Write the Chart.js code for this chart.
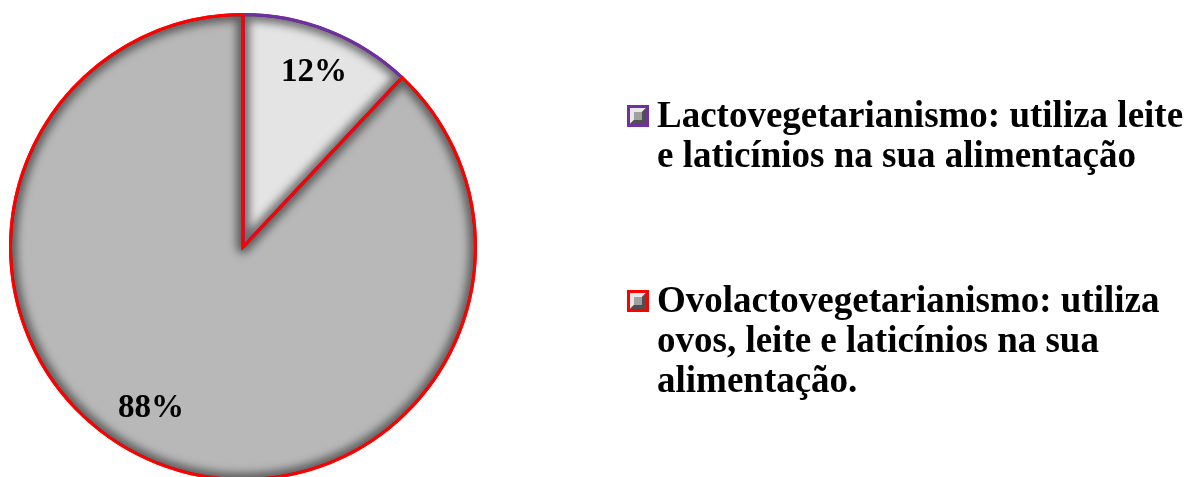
<!DOCTYPE html>
<html>
<head>
<meta charset="utf-8">
<script src="https://cdn.jsdelivr.net/npm/chart.js@4"></script>
<style>
  html, body { margin: 0; padding: 0; background: #fff; overflow: hidden; }
  #wrap { width: 1190px; height: 490px; position: relative; }
</style>
</head>
<body>
<div id="wrap"><canvas id="dietPie"></canvas></div>
<script>
// Chart data
const labels = [
  ['Lactovegetarianismo: utiliza leite', 'e laticínios na sua alimentação'],
  ['Ovolactovegetarianismo: utiliza', 'ovos, leite e laticínios na sua', 'alimentação.']
];
const values = [12, 88];
const fillColors = ['#e4e4e4', '#b8b8b8'];
const edgeColors = ['#7030a0', '#ff0000'];

const serif = '"Liberation Serif", serif';

// inner bevel shadow along the slice edges, then redraw the borders on top
const bevel = {
  id: 'bevel',
  afterDatasetsDraw(chart) {
    const ctx = chart.ctx;
    const arcs = chart.getDatasetMeta(0).data;
    arcs.forEach(arc => {
      const p = new Path2D();
      p.moveTo(arc.x, arc.y);
      p.arc(arc.x, arc.y, arc.outerRadius, arc.startAngle, arc.endAngle);
      p.closePath();
      ctx.save();
      ctx.clip(p);
      ctx.filter = 'blur(4px)';
      ctx.strokeStyle = 'rgba(30,30,30,0.6)';
      ctx.lineWidth = 13;
      ctx.lineJoin = 'round';
      ctx.stroke(p);
      ctx.restore();
    });
    arcs.forEach(arc => {
      const p = new Path2D();
      p.moveTo(arc.x, arc.y);
      p.arc(arc.x, arc.y, arc.outerRadius, arc.startAngle, arc.endAngle);
      p.closePath();
      ctx.save();
      ctx.strokeStyle = arc.options.borderColor;
      ctx.lineWidth = arc.options.borderWidth;
      ctx.lineJoin = 'miter';
      ctx.stroke(p);
      ctx.restore();
    });
  }
};

// percentage labels inside the slices
const labelPlace = [{ frac: 0.81, shift: 0.01 }, { frac: 0.80, shift: 0.14 }];
const sliceLabels = {
  id: 'sliceLabels',
  afterDatasetsDraw(chart) {
    const ctx = chart.ctx;
    const data = chart.data.datasets[0].data;
    const total = data.reduce((a, b) => a + b, 0);
    chart.getDatasetMeta(0).data.forEach((arc, i) => {
      const mid = (arc.startAngle + arc.endAngle) / 2 + labelPlace[i].shift;
      const r = arc.outerRadius * labelPlace[i].frac;
      ctx.save();
      ctx.font = 'bold 33px ' + serif;
      ctx.fillStyle = '#000';
      ctx.textAlign = 'center';
      ctx.textBaseline = 'middle';
      ctx.fillText(Math.round(data[i] / total * 100) + '%', arc.x + Math.cos(mid) * r, arc.y + Math.sin(mid) * r);
      ctx.restore();
    });
  }
};

// legend on the right with wrapped lines
const sideLegend = {
  id: 'sideLegend',
  afterDraw(chart) {
    const ctx = chart.ctx;
    const ds = chart.data.datasets[0];
    const boxX = 627, boxSize = 22, textX = 657;
    const firstBaseline = [127, 312];
    const lineStep = 40;
    chart.data.labels.forEach((lines, i) => {
      const by = firstBaseline[i] - 22;
      // box: coloured frame with a bevelled grey square inside
      ctx.fillStyle = ds.borderColor[i];
      ctx.fillRect(boxX, by, boxSize, boxSize);
      const ix = boxX + 3, iy = by + 3, is = boxSize - 6;
      ctx.fillStyle = '#e8e8e8';
      ctx.beginPath();
      ctx.moveTo(ix, iy); ctx.lineTo(ix + is, iy); ctx.lineTo(ix, iy + is); ctx.closePath();
      ctx.fill();
      ctx.fillStyle = '#505050';
      ctx.beginPath();
      ctx.moveTo(ix + is, iy); ctx.lineTo(ix + is, iy + is); ctx.lineTo(ix, iy + is); ctx.closePath();
      ctx.fill();
      ctx.fillStyle = '#a0a0a0';
      ctx.fillRect(ix + 4, iy + 4, is - 8, is - 8);
      // text
      ctx.font = 'bold 37px ' + serif;
      ctx.fillStyle = '#000';
      ctx.textAlign = 'left';
      ctx.textBaseline = 'alphabetic';
      lines.forEach((t, j) => {
        ctx.fillText(t, textX, firstBaseline[i] + j * lineStep);
      });
    });
  }
};

function build() {
  new Chart(document.getElementById('dietPie'), {
    type: 'pie',
    data: {
      labels: labels,
      datasets: [{
        data: values,
        backgroundColor: fillColors,
        borderColor: edgeColors,
        borderWidth: 3
      }]
    },
    options: {
      responsive: true,
      maintainAspectRatio: false,
      animation: false,
      layout: { padding: { left: 9, top: 13, right: 713, bottom: 9 } },
      plugins: {
        legend: { display: false },
        tooltip: { enabled: false }
      }
    },
    plugins: [bevel, sliceLabels, sideLegend]
  });
}

document.fonts.load('bold 37px "Liberation Serif"').then(build, build);
</script>
</body>
</html>
